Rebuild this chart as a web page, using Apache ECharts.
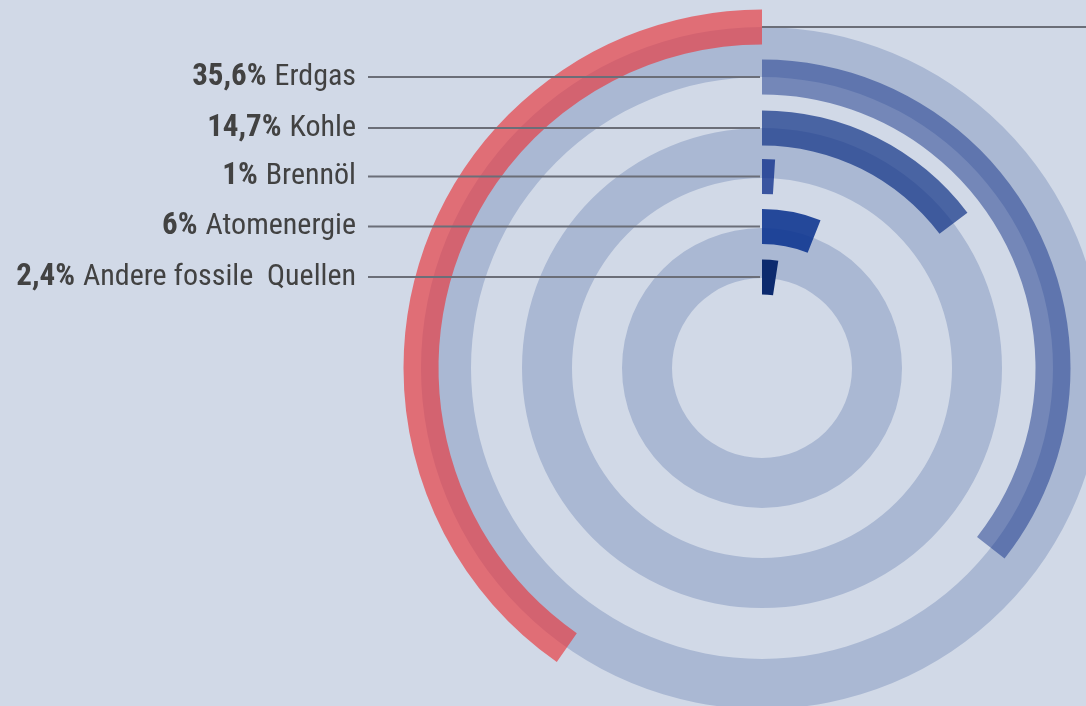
<!DOCTYPE html>
<html>
<head>
<meta charset="utf-8">
<script src="https://cdn.jsdelivr.net/npm/echarts@6/dist/echarts.min.js"></script>
<style>
html,body{margin:0;padding:0;background:#d1d9e7;}
#chart{width:1086px;height:706px;}
</style>
</head>
<body>
<div id="chart"></div>
<script>
// ---- data ----
const categories = ['Erdgas', 'Kohle', 'Brennöl', 'Atomenergie', 'Andere fossile  Quellen'];
const values = [35.6, 14.7, 1, 6, 2.4];
const pctLabels = ['35,6%', '14,7%', '1%', '6%', '2,4%'];
const redValue = 40.3; // remaining share, drawn counter-clockwise (label outside the visible area)
const total = 100;

// ---- styling / layout ----
const cx = 762, cy = 368;
const barHalf = 17.5;
const redRadius = 341;
const barRadii = [291, 240, 191.5, 141.5, 91];
const trackRanges = [[291, 341], [190, 240], [90, 140]];
const barColors = ['rgba(11,43,131,0.47)', 'rgba(16,50,134,0.70)', 'rgba(15,48,140,0.78)', 'rgba(11,51,143,0.88)', '#0c2a6e'];
const redColor = 'rgba(231,56,62,0.67)';
const trackColor = '#aab8d3';
const fontFam = "'Roboto Condensed','Liberation Sans Narrow','DejaVu Sans Condensed',Roboto,sans-serif";

const series = [];
trackRanges.forEach(function (r) {
  series.push({
    type: 'pie', silent: true, center: [cx, cy], radius: [r[0], r[1]],
    startAngle: 90, label: { show: false }, labelLine: { show: false },
    itemStyle: { color: trackColor, borderWidth: 0 },
    data: [{ value: total }], animation: false, z: 1
  });
});
function barSeries(v, r, color, clockwise) {
  return {
    type: 'pie', silent: true, center: [cx, cy], radius: [r - barHalf, r + barHalf],
    startAngle: 90, clockwise: clockwise, label: { show: false }, labelLine: { show: false },
    avoidLabelOverlap: false, minAngle: 0,
    itemStyle: { borderWidth: 0 },
    data: [
      { value: v, itemStyle: { color: color } },
      { value: total - v, itemStyle: { color: 'rgba(0,0,0,0)' } }
    ],
    animation: false, z: 2
  };
}
series.push(barSeries(redValue, redRadius, redColor, false));
values.forEach(function (v, i) {
  series.push(barSeries(v, barRadii[i], barColors[i], true));
});

const graphics = [];
// red leader line to the right edge
graphics.push({
  type: 'line', z: 100,
  shape: { x1: cx, y1: cy - redRadius, x2: 1086, y2: cy - redRadius },
  style: { stroke: '#6b6e78', lineWidth: 2 }
});
categories.forEach(function (c, i) {
  const y = cy - barRadii[i];
  graphics.push({
    type: 'line', z: 100,
    shape: { x1: 368, y1: y, x2: cx - 2, y2: y },
    style: { stroke: '#6b6e78', lineWidth: 2 }
  });
  graphics.push({
    type: 'text', z: 100, x: 356, y: y,
    style: {
      text: '{b|' + pctLabels[i] + '}{n|' + c + '}',
      align: 'right', verticalAlign: 'middle',
      rich: {
        b: { fontFamily: fontFam, fontWeight: 'bold', fontSize: 31, fill: '#424242', padding: [0, 8, 0, 0] },
        n: { fontFamily: fontFam, fontWeight: 'normal', fontSize: 30, fill: '#424242' }
      }
    }
  });
});

const chart = echarts.init(document.getElementById('chart'), null, { renderer: 'canvas' });
chart.setOption({
  backgroundColor: '#d1d9e7',
  animation: false,
  series: series,
  graphic: graphics
});
</script>
</body>
</html>
